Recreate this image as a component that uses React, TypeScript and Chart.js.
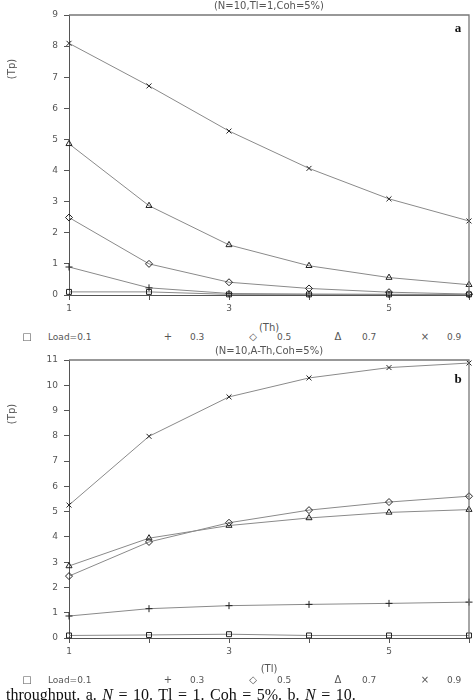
import React, { useEffect, useRef } from "react";
import { Chart, registerables } from "chart.js";
Chart.register(...registerables);

// ---- data ----
const xValues = [1, 2, 3, 4, 5, 6];
const xTickShown = [1, 3, 5];
const legendSymbols = ["□", "+", "◇", "Δ", "×"];
const legendLabels = ["Load=0.1", "0.3", "0.5", "0.7", "0.9"];
const pointStyles = ["rect", "cross", "rectRot", "triangle", "crossRot"];

// chart a: Tp vs Th (N=10, Tl=1, Coh=5%)
const aLoad01 = [0.1, 0.1, 0.02, 0.02, 0.02, 0.02];
const aLoad03 = [0.9, 0.23, 0.05, 0.03, 0.02, 0.01];
const aLoad05 = [2.49, 1.0, 0.41, 0.21, 0.09, 0.03];
const aLoad07 = [4.86, 2.87, 1.61, 0.94, 0.56, 0.33];
const aLoad09 = [8.09, 6.72, 5.27, 4.07, 3.09, 2.38];

// chart b: Tp vs Tl (N=10, A-Th, Coh=5%)
const bLoad01 = [0.1, 0.12, 0.15, 0.1, 0.1, 0.1];
const bLoad03 = [0.87, 1.16, 1.28, 1.33, 1.37, 1.42];
const bLoad05 = [2.45, 3.8, 4.56, 5.06, 5.38, 5.61];
const bLoad07 = [2.85, 3.95, 4.45, 4.75, 4.97, 5.08];
const bLoad09 = [5.26, 7.98, 9.54, 10.29, 10.7, 10.88];

const aSeries = [aLoad01, aLoad03, aLoad05, aLoad07, aLoad09];
const bSeries = [bLoad01, bLoad03, bLoad05, bLoad07, bLoad09];

const FONT = "'DejaVu Sans', sans-serif";
const TXT = "#555";

const framePlugin = {
  id: "frame",
  afterDatasetsDraw(chart: any) {
    const { ctx, chartArea } = chart;
    const { left, top, right, bottom } = chartArea;
    ctx.save();
    ctx.strokeStyle = "#777";
    ctx.lineWidth = 1.3;
    ctx.beginPath();
    ctx.moveTo(left, top);
    ctx.lineTo(right, top);
    ctx.lineTo(right, bottom);
    ctx.stroke();
    ctx.restore();
  },
};

function makeConfig(series: number[][], yMax: number, xAxisH: number) {
  return {
    type: "line" as const,
    data: {
      datasets: series.map((vals, i) => ({
        label: legendLabels[i],
        data: xValues.map((x, j) => ({ x, y: vals[j] })),
        borderColor: "#8a8a8a",
        borderWidth: 1,
        tension: 0,
        pointStyle: pointStyles[i],
        pointRadius: 3.5,
        pointBorderColor: "#222",
        pointBackgroundColor: "rgba(0,0,0,0)",
        pointBorderWidth: 1,
        clip: false,
      })),
    },
    options: {
      responsive: false,
      animation: false,
      devicePixelRatio: 1,
      layout: { padding: { left: 0, right: 5, top: 15, bottom: 0 } },
      plugins: { legend: { display: false }, title: { display: false }, tooltip: { enabled: false } },
      scales: {
        x: {
          type: "linear",
          min: 1,
          max: 6,
          afterFit: (s: any) => {
            s.height = xAxisH;
          },
          border: { display: true, color: "#555", width: 1 },
          grid: { drawOnChartArea: false, drawTicks: true, tickLength: 5, color: "#555" },
          ticks: {
            stepSize: 1,
            padding: 3,
            maxRotation: 0,
            color: TXT,
            font: { family: FONT, size: 9 },
            callback: (v: number) => (xTickShown.includes(v) ? String(v) : ""),
          },
        },
        y: {
          type: "linear",
          min: 0,
          max: yMax,
          afterFit: (s: any) => {
            s.width = 69;
          },
          border: { display: true, color: "#555", width: 1 },
          grid: { drawOnChartArea: false, drawTicks: true, tickLength: 5, color: "#555" },
          ticks: {
            stepSize: 1,
            padding: 6,
            color: TXT,
            font: { family: FONT, size: 9 },
          },
        },
      },
    },
    plugins: [framePlugin],
  };
}

function ChartCanvas({ series, yMax, xAxisH, top }: any) {
  const ref = useRef<HTMLCanvasElement | null>(null);
  useEffect(() => {
    if (!ref.current) return;
    const chart = new Chart(ref.current, makeConfig(series, yMax, xAxisH) as any);
    return () => chart.destroy();
  }, []);
  return (
    <canvas
      ref={ref}
      width={474}
      height={320}
      style={{ position: "absolute", left: 0, top, width: 474, height: 320 }}
    />
  );
}

function T({ x, y, children, size = 9, style = {} }: any) {
  return (
    <span
      style={{
        position: "absolute",
        left: x,
        top: y,
        transform: "translate(-50%,-50%)",
        fontFamily: FONT,
        fontSize: size,
        color: TXT,
        whiteSpace: "nowrap",
        lineHeight: 1,
        ...style,
      }}
    >
      {children}
    </span>
  );
}

function Legend({ y }: { y: number }) {
  const symX = [27, 168, 253, 338, 425];
  const labX = [48, 190, 277, 362, 447];
  return (
    <>
      {legendSymbols.map((s, i) => (
        <T key={"s" + i} x={symX[i]} y={y} size={10}>
          {s}
        </T>
      ))}
      {legendLabels.map((l, i) => (
        <span
          key={"l" + i}
          style={{
            position: "absolute",
            left: labX[i],
            top: y - 5,
            fontFamily: FONT,
            fontSize: 9,
            color: TXT,
            lineHeight: "10px",
            whiteSpace: "nowrap",
          }}
        >
          {l}
        </span>
      ))}
    </>
  );
}

export default function App() {
  return (
    <div style={{ position: "absolute", left: 0, top: 0, width: 474, height: 700, overflow: "hidden", background: "#fff" }}>
      <ChartCanvas series={aSeries} yMax={9} xAxisH={25} top={0} />
      <ChartCanvas series={bSeries} yMax={11} xAxisH={27} top={345} />

      <T x={269} y={6} size={10}>(N=10,Tl=1,Coh=5%)</T>
      <T x={12} y={69} size={10} style={{ transform: "translate(-50%,-50%) rotate(-90deg)" }}>(Tp)</T>
      <T x={458} y={27} size={13} style={{ fontFamily: "'Liberation Serif', serif", fontWeight: "bold", color: "#111" }}>a</T>
      <T x={269} y={328} size={10}>(Th)</T>
      <Legend y={337} />

      <T x={269} y={351} size={10}>(N=10,A-Th,Coh=5%)</T>
      <T x={12} y={414} size={10} style={{ transform: "translate(-50%,-50%) rotate(-90deg)" }}>(Tp)</T>
      <T x={458} y={378} size={13} style={{ fontFamily: "'Liberation Serif', serif", fontWeight: "bold", color: "#111" }}>b</T>
      <T x={269} y={669} size={10}>(Tl)</T>
      <Legend y={680} />

      <span
        style={{
          position: "absolute",
          left: 6,
          top: 686,
          fontFamily: "'Liberation Serif', serif",
          fontSize: 16,
          wordSpacing: "1.5px",
          color: "#111",
          whiteSpace: "nowrap",
          lineHeight: "17px",
        }}
      >
        throughput. a. <i>N</i> = 10. Tl = 1. Coh = 5%. b. <i>N</i> = 10.
      </span>
    </div>
  );
}
